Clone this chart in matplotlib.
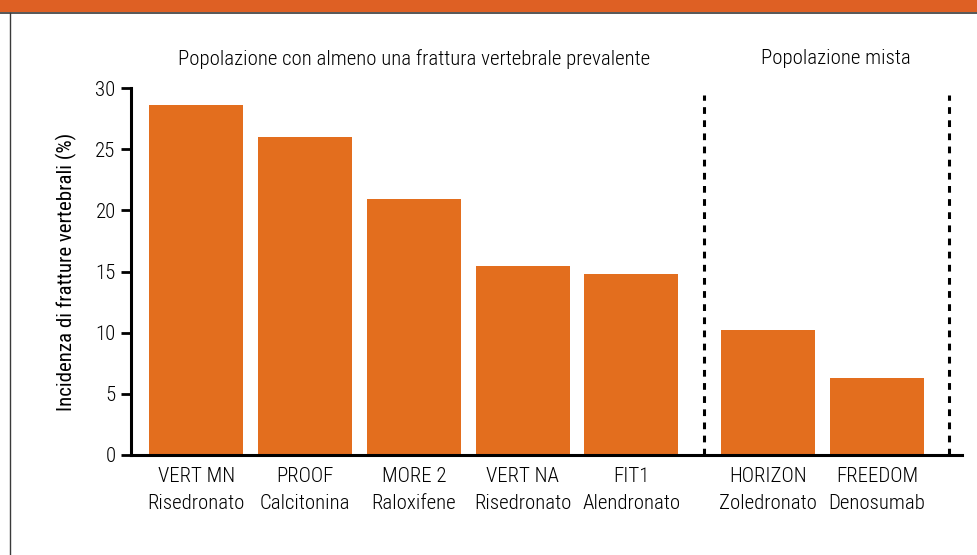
import matplotlib
matplotlib.use('Agg')
import matplotlib.pyplot as plt
from matplotlib.patches import Rectangle
from matplotlib.lines import Line2D

plt.rcParams['font.family'] = ['Roboto Condensed', 'DejaVu Sans']
plt.rcParams['font.weight'] = 'light'

studi = ['VERT MN', 'PROOF', 'MORE 2', 'VERT NA', 'FIT1', 'HORIZON', 'FREEDOM']
farmaci = ['Risedronato', 'Calcitonina', 'Raloxifene', 'Risedronato', 'Alendronato',
           'Zoledronato', 'Denosumab']
incidenza = [28.6, 26.0, 20.9, 15.45, 14.8, 10.2, 6.3]
pos = [0, 1, 2, 3, 4, 5.26, 6.26]
gruppi = ['Popolazione con almeno una frattura vertebrale prevalente', 'Popolazione mista']

arancio = '#E36E1E'
fs = 15

fig = plt.figure(figsize=(9.78, 5.55), dpi=100)
ax = fig.add_axes([131 / 978, 1 - 455 / 555, (962 - 131) / 978, (455 - 88) / 555])

ax.bar(pos, incidenza, width=0.865, color=arancio)

# separatori tratteggiati
for xs in [4.67, 6.92]:
    ax.plot([xs, xs], [0, 29.4], color='black', lw=2.2, dashes=(2.2, 2.1), solid_capstyle='butt')

ax.set_xlim(-0.6, 7.04)
ax.set_ylim(0, 30)
ax.set_yticks([0, 5, 10, 15, 20, 25, 30])
ax.set_xticks(pos)
ax.set_xticklabels([s + '\n' + f for s, f in zip(studi, farmaci)], fontsize=fs, linespacing=1.5)
ax.tick_params(axis='x', length=0, pad=9)
ax.tick_params(axis='y', length=7, width=2, labelsize=fs, pad=4)
ax.set_ylabel('Incidenza di fratture vertebrali (%)', fontsize=fs, labelpad=13)

for s in ['top', 'right']:
    ax.spines[s].set_visible(False)
for s in ['left', 'bottom']:
    ax.spines[s].set_linewidth(2.2)

ax.text(2.0, 32.4, gruppi[0], ha='center', va='center', fontsize=fs, clip_on=False)
ax.text(5.88, 32.4, gruppi[1], ha='center', va='center', fontsize=fs, clip_on=False)

# cornice della figura
fig.patches.append(Rectangle((0, 1 - 12 / 555), 1, 12 / 555, transform=fig.transFigure,
                             facecolor='#DE6024', edgecolor='none'))
fig.lines.append(Line2D([0, 1], [1 - 12.5 / 555, 1 - 12.5 / 555], transform=fig.transFigure,
                        color='#3a3a3a', lw=1.2))
fig.lines.append(Line2D([9.5 / 978, 9.5 / 978], [0, 1 - 12.5 / 555], transform=fig.transFigure,
                        color='#3a3a3a', lw=1.0))

fig.savefig('out.png', dpi=100)
